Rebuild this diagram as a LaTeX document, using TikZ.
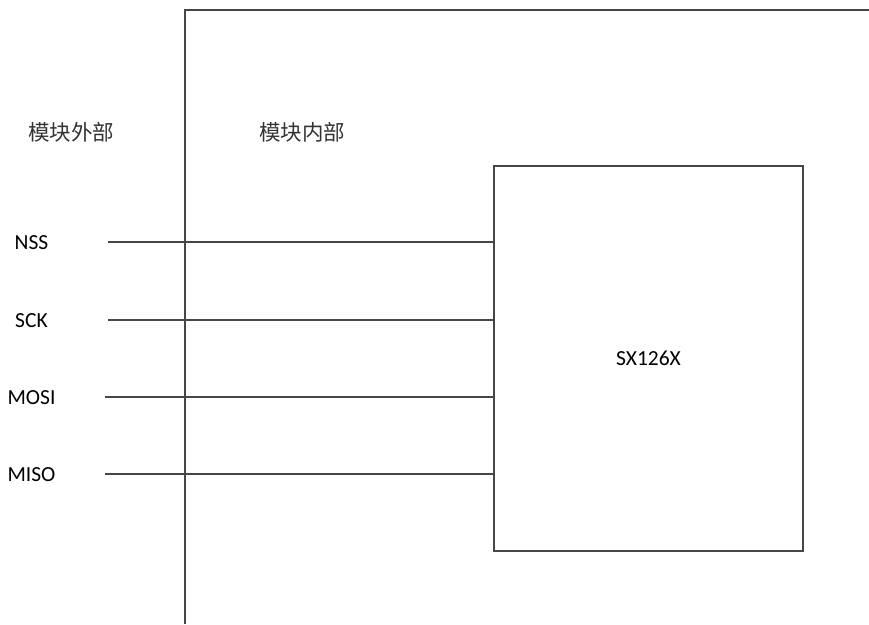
\documentclass[tikz,border=0pt]{standalone}
\usepackage{fontspec}
\setmainfont{Carlito}
\newfontfamily\cjk{Noto Sans CJK SC}
\begin{document}
\begin{tikzpicture}[x=1pt,y=-1pt,
  wire/.style={draw=black!72,line width=1.6pt},
  lbl/.style={inner sep=0pt,font=\fontsize{21.5}{26}\selectfont},
  cjklbl/.style={inner sep=0pt,font=\cjk\fontsize{21.5}{26}\selectfont,text=black!80},
  chip/.style={draw=black!72,line width=1.8pt,minimum width=309pt,minimum height=385pt,inner sep=0pt,font=\fontsize{21.5}{26}\selectfont}]
\useasboundingbox (0,0) rectangle (869,624);
% module boundary
\coordinate (bBot) at (185,624);
\coordinate (bCorner) at (185,10);
\coordinate (bRight) at (869,10);
\draw[wire] (bBot) -- (bCorner) -- (bRight);
% texts
\node[cjklbl] (outside) at (71,132) {模块外部};
\node[cjklbl] (inside) at (302,132) {模块内部};
% chip
\node[chip] (chip) at (648.5,358.5) {SX126X};
% pins
\node[lbl] (nss) at (31.5,243) {NSS};
\node[lbl] (sck) at (31.5,321) {SCK};
\node[lbl] (mosi) at (31.5,398) {MOSI};
\node[lbl] (miso) at (31.5,475) {MISO};
\coordinate (nssL) at (108,242);
\coordinate (sckL) at (108,320);
\coordinate (mosiL) at (105,397);
\coordinate (misoL) at (105,474);
\draw[wire] (nssL) -- (nssL -| chip.west);
\draw[wire] (sckL) -- (sckL -| chip.west);
\draw[wire] (mosiL) -- (mosiL -| chip.west);
\draw[wire] (misoL) -- (misoL -| chip.west);
\end{tikzpicture}
\end{document}
